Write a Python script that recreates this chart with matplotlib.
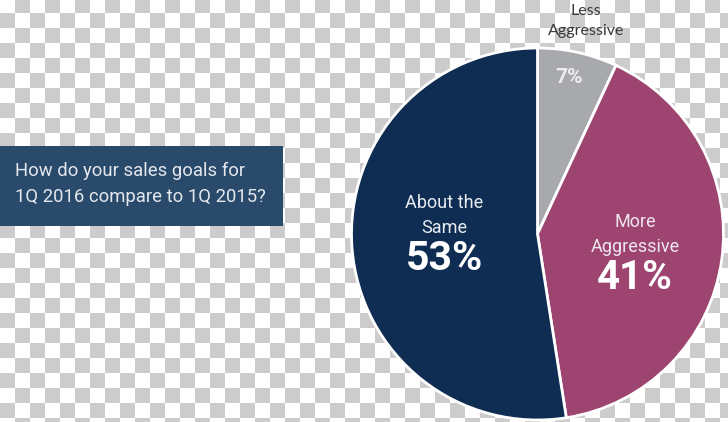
import numpy as np
import matplotlib
matplotlib.use("Agg")
import matplotlib.pyplot as plt
from matplotlib.patches import Rectangle

# ---- data ----
categories = ["Less\nAggressive", "More\nAggressive", "About the\nSame"]
values = [7, 41, 53]
pct_labels = ["7%", "41%", "53%"]
question = ["How do your sales goals for", "1Q 2016 compare to 1Q 2015?"]

# ---- styles ----
colors = ["#a7a9ac", "#9d4470", "#0f2d52"]
box_color = "#2a4a6b"
W, H = 728, 422

fig = plt.figure(figsize=(W / 100, H / 100), dpi=100)
ax = fig.add_axes([0, 0, 1, 1])

# transparent-style checkerboard background
yy, xx = np.mgrid[0:H, 0:W]
chk = ((xx // 15 + (yy + 2) // 15) % 2 == 1)
img = np.where(chk[..., None], 204, 255).astype(np.uint8).repeat(3, axis=2)
ax.imshow(img, extent=(0, W, 0, H), origin="upper", interpolation="nearest", zorder=0)

def Y(y_img):
    return H - y_img

# question box
ax.add_patch(Rectangle((0, Y(226)), 283, 80, facecolor=box_color, edgecolor="none", zorder=1))
for line, yb in zip(question, [176, 202]):
    ax.text(15, Y(yb), line, color="#e4e8ee", fontsize=13.3, family="Roboto",
            va="baseline", ha="left", zorder=2)

# pie
cx, cy, r = 537.5, Y(234), 186
ax.pie(values, colors=colors, startangle=90, counterclock=False,
       center=(cx, cy), radius=r, frame=True,
       wedgeprops=dict(edgecolor="white", linewidth=2))
ax.set_xlim(0, W)
ax.set_ylim(0, H)
ax.set_aspect("auto")
ax.axis("off")

# Less Aggressive (outside, dark text)
less_lines = categories[0].split("\n")
for line, yb in zip(less_lines, [15, 35]):
    ax.text(586, Y(yb), line, color="#3a3a3a", fontsize=11.5, family="Lato",
            ha="center", va="baseline", zorder=3)
ax.text(569, Y(83), pct_labels[0], color="#eeeeee", fontsize=15, family="Roboto",
        weight="bold", ha="center", va="baseline", zorder=3)

# More Aggressive
more_lines = categories[1].split("\n")
for line, yb in zip(more_lines, [227, 252]):
    ax.text(635, Y(yb), line, color="#f0e6ee", fontsize=13, family="Roboto",
            ha="center", va="baseline", zorder=3)
ax.text(635, Y(289), pct_labels[1], color="white", fontsize=29, family="Roboto",
        weight="bold", ha="center", va="baseline", zorder=3)

# About the Same
same_lines = categories[2].split("\n")
for line, yb in zip(same_lines, [208, 233]):
    ax.text(444, Y(yb), line, color="#e8ecf2", fontsize=13, family="Roboto",
            ha="center", va="baseline", zorder=3)
ax.text(444, Y(270), pct_labels[2], color="white", fontsize=29.5, family="Roboto",
        weight="bold", ha="center", va="baseline", zorder=3)

fig.savefig("out.png", dpi=100)
